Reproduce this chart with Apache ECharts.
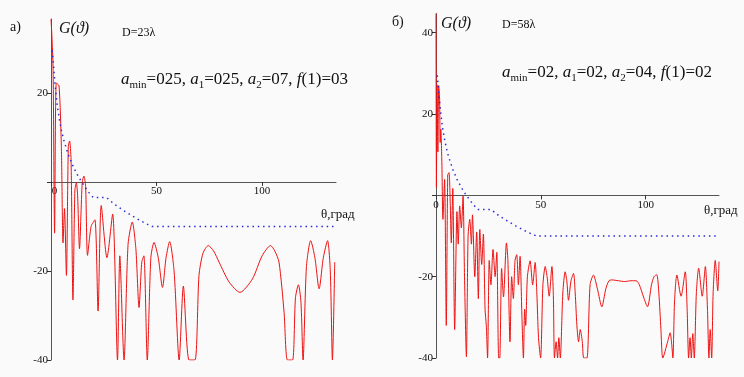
<!DOCTYPE html>
<html>
<head>
<meta charset="utf-8">
<script src="https://cdn.jsdelivr.net/npm/echarts@6/dist/echarts.min.js"></script>
<style>
html, body { margin: 0; padding: 0; background: #fafafa; }
#main { width: 744px; height: 377px; }
</style>
</head>
<body>
<div id="main"></div>
<script>
// panel a) D=23λ : angle (deg) and gain (dB)
var thetaA = [0, 0.4, 1.0, 1.7, 2.5, 3.8, 4.9, 5.7, 6.4, 7.3, 8.2, 8.8, 9.5, 10.4, 11.3,
	12.0, 12.6, 13.5, 14.8, 15.6, 16.4, 17.3, 19.0, 20.8, 22.3, 23.8, 26.5, 29.2, 31.5, 32.6,
	34.6, 36.5, 38.5, 40.2, 41.7, 43.0, 44.0, 45.6, 47.3, 48.8, 50.8, 52.8, 54.5, 56.2, 58.3,
	60.7, 62.7, 65.4, 68.2, 70.1, 72.0, 74.5, 77.0, 79.6, 84.4, 89.5, 95.4, 100.0, 104.0, 106.0,
	108.0, 110.4, 112.0, 114.4, 115.8, 117.2, 118.4, 119.4, 121.0, 123.0, 125.0, 127.0, 129.0, 131.0, 132.3,
	133.3, 134.4];
var gainA = [36.6, 33, 25, -11.5, 22.2, 21.6, 8, -13.7, -6, -21, 8, 9.2, 5, -26.5, -2,
	-0.2, -3, -15, 0, 1.3, -1, -16.5, -10, -8.5, -29, -5.3, -17, -7.2, -40, -16.6,
	-40, -14, -9, -15, -28.2, -18, -16.6, -40, -17, -13.6, -17, -23.7, -17, -13.4, -20,
	-40, -23.4, -40, -40, -21, -16, -14.3, -15.5, -18, -22.5, -24.8, -21.8, -16.6, -14.3, -15.5,
	-18, -29.3, -40, -40, -26, -23.1, -27, -40, -19, -13.2, -17, -24, -17, -13.2, -20,
	-40, -18];

// panel б) D=58λ
var thetaB = [0, 0.2, 0.5, 0.9, 1.3, 1.7, 2.0, 2.3, 2.8, 3.3,
	4.1, 4.9, 5.6, 6.2, 6.8, 7.3, 8.0, 8.9, 10.0, 10.6,
	11.3, 12.1, 12.9, 13.6, 14.5, 15.3, 16.1, 16.9, 17.4, 18.5,
	19.4, 20.2, 20.9, 21.8, 22.6, 23.4, 24.0, 24.6, 25.4, 26.2,
	27.2, 28.2, 29.0, 29.9, 30.4, 31.3, 32.2, 33.6, 34.3, 35.3,
	36.1, 36.9, 37.7, 38.5, 39.3, 40.1, 41.0, 41.7, 42.3, 42.8,
	43.6, 44.9, 46.1, 47.3, 48.1, 48.9, 49.9, 51.0, 52.1, 53.0,
	54.0, 55.3, 56.0, 56.5, 57.3, 58.0, 58.6, 59.3, 60.5, 61.6,
	62.4, 63.2, 64.4, 65.6, 66.4, 67.2, 68.0, 68.8, 69.8, 70.5,
	72.0, 73.5, 75.1, 77.0, 79.1, 81.0, 82.5, 83.9, 87.0, 90.0,
	93.0, 95.5, 97.0, 99.0, 100.9, 102.8, 104.0, 105.3, 106.3, 107.3,
	108.2, 110.5, 111.7, 112.5, 113.0, 113.8, 114.9, 116.9, 118.9, 119.8,
	120.5, 121.2, 121.8, 122.5, 123.2, 124.2, 125.3, 127.0, 128.5, 129.5,
	130.2, 130.8, 131.5, 132.2, 133.2, 134.4, 135.0];
var gainB = [44.7, 2, 27.2, 10.7, 27, 24, 13, 16.3, 8, -5.9,
	3.9, -32, 5, 5.6, -2, -11.7, 1.7, -33, -4, -12,
	-2.6, -8, -0.2, -20, -39.7, -10, -5.9, -12, -4.8, -20,
	-9, -25.4, -8.4, -17, -9.5, -28, -32, -40, -16, -22,
	-13.3, -20, -14, -40, -40, -18, -25, -11.7, -16, -36,
	-20, -25.4, -16, -14.6, -22, -15, -30, -40, -28, -32,
	-20, -16.1, -22, -16.5, -24, -35, -40, -22, -17.5, -20,
	-24.8, -17.5, -25, -40, -36, -40, -35, -40, -24, -18.8,
	-21, -25.8, -21, -19.2, -24, -31.9, -36, -33, -36, -40,
	-40, -22, -19.6, -23, -27.4, -23, -21, -20.8, -21, -21.2,
	-21, -21, -22, -25, -27.4, -22, -20, -19.5, -24, -33,
	-40, -36, -33.8, -37, -40, -26, -19.6, -24.8, -18.8, -28,
	-40, -35, -40, -34, -40, -24, -17.9, -24.8, -17.5, -28,
	-40, -33, -40, -24, -16, -23.5, -16.3];

// dotted envelope (same on both panels)
var maskTheta = [0.6, 2, 3, 4, 5, 6, 8, 10, 12, 14, 16, 18, 20, 26.3, 30, 34, 38, 42, 46, 48, 135];
var maskGain = [29.5, 21.5, 17, 14, 11.5, 9.5, 6.4, 4, 2, 0.4, -1.1, -2.4, -3.5, -3.5, -5, -6.3, -7.5, -8.6, -9.6, -10, -10];

var xTicks = [0, 50, 100];
var yLabelsA = [-40, -20, 20];
var yLabelsB = [-40, -20, 20, 40];

function pairs(xs, ys) {
	var d = [];
	var n = Math.min(xs.length, ys.length);
	for (var i = 0; i < n; i++) {
		d.push([xs[i], ys[i]]);
	}
	return d;
}

var serif = 'Liberation Serif';

// the x axis sits on the zero line: shift it up from the grid bottom
function xAxisOf(idx, lift, zeroShift) {
	return {
		type: 'value', gridIndex: idx, min: 0, max: 135,
		offset: -lift,
		axisLine: { onZero: false, lineStyle: { color: '#555', width: 1 } },
		axisTick: { customValues: xTicks, length: 4, lineStyle: { color: '#333' } },
		axisLabel: {
			customValues: xTicks, fontFamily: serif, fontSize: 11, color: '#111', margin: 4,
			formatter: function (v) { return v === 0 ? '{z|0}' : String(v); },
			rich: { z: { fontFamily: serif, fontSize: 11, color: '#111', padding: [0, 0, 0, zeroShift] } }
		},
		splitLine: { show: false }
	};
}

function yAxisOf(idx, max, labels) {
	return {
		type: 'value', gridIndex: idx, min: -40, max: max,
		axisLine: { show: true, onZero: false, lineStyle: { color: '#555', width: 1 } },
		axisTick: { customValues: labels.concat([0]), length: 4, lineStyle: { color: '#333' } },
		axisLabel: { customValues: labels, fontFamily: serif, fontSize: 11, color: '#111', margin: 3 },
		splitLine: { show: false }
	};
}

function redLine(idx, data) {
	return {
		type: 'line', xAxisIndex: idx, yAxisIndex: idx, data: data,
		symbol: 'none', clip: true, smooth: 0.25,
		lineStyle: { color: '#ee1111', width: 1 }
	};
}

function blueLine(idx) {
	return {
		type: 'line', xAxisIndex: idx, yAxisIndex: idx, data: pairs(maskTheta, maskGain),
		symbol: 'none',
		lineStyle: { color: '#2a2ad8', width: 1.5, type: [1.5, 3.8] }
	};
}

function txt(x, y, text, size, style) {
	return {
		type: 'text', x: x, y: y,
		style: {
			text: text, fill: '#111', verticalAlign: 'middle',
			font: (style || '') + ' ' + size + 'px "' + serif + '"'
		}
	};
}

function params(x, y, s) {
	var base = { fontFamily: serif, fontSize: 17, fill: '#111' };
	return {
		type: 'text', x: x, y: y,
		style: {
			text: s, verticalAlign: 'middle', fill: '#111',
			font: '17px "' + serif + '"',
			rich: {
				n: base,
				it: { fontFamily: serif, fontSize: 17, fontStyle: 'italic', fill: '#111' },
				sub: { fontFamily: serif, fontSize: 11, fill: '#111', padding: [11, 0, 0, 0] }
			}
		}
	};
}

var option = {
	animation: false,
	backgroundColor: '#fafafa',
	grid: [
		{ left: 51, top: 19, width: 285, height: 341 },
		{ left: 436, top: 13.6, width: 283, height: 344.4 }
	],
	xAxis: [xAxisOf(0, 178.1, 7), xAxisOf(1, 162.6, 0)],
	yAxis: [yAxisOf(0, 36.6, yLabelsA), yAxisOf(1, 44.7, yLabelsB)],
	series: [
		redLine(0, pairs(thetaA, gainA)),
		blueLine(0),
		redLine(1, pairs(thetaB, gainB)),
		blueLine(1)
	],
	graphic: [
		txt(10, 27, 'а)', 14),
		txt(59, 29, 'G(ϑ)', 16, 'italic'),
		txt(122, 33, 'D=23λ', 12),
		params(121, 80, '{it|a}{sub|min}{n|=025, }{it|a}{sub|1}{n|=025, }{it|a}{sub|2}{n|=07, }{it|f}{n|(1)=03}'),
		txt(321, 215, 'θ,град', 13),
		txt(392, 22, 'б)', 14),
		txt(441, 24, 'G(ϑ)', 16, 'italic'),
		txt(502, 25, 'D=58λ', 12),
		params(502, 73, '{it|a}{sub|min}{n|=02, }{it|a}{sub|1}{n|=02, }{it|a}{sub|2}{n|=04, }{it|f}{n|(1)=02}'),
		txt(704, 211, 'θ,град', 13)
	]
};

var myChart = echarts.init(document.getElementById('main'));
myChart.setOption(option);
</script>
</body>
</html>
